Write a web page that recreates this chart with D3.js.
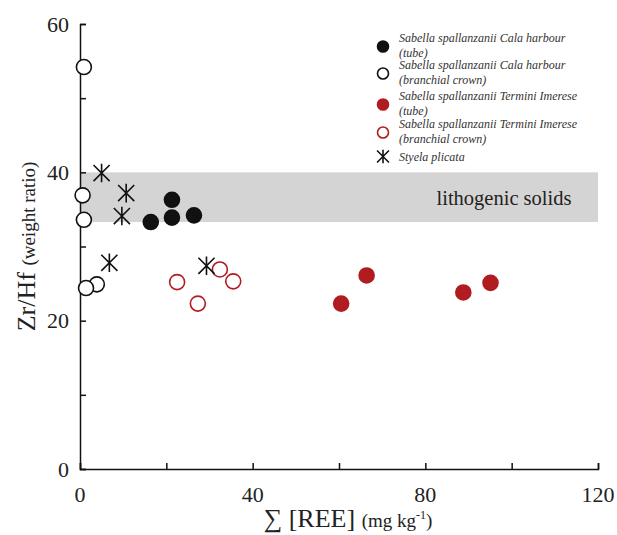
<!DOCTYPE html>
<html>
<head>
<meta charset="utf-8">
<script src="https://cdn.jsdelivr.net/npm/d3@7"></script>
<style>
  body { margin: 0; background: #fff; }
</style>
</head>
<body>
<svg id="chart" width="617" height="535" font-family="'Liberation Serif', 'Times New Roman', serif"></svg>
<script>
// series values: [sum REE (mg/kg), Zr/Hf]
const calaTube = [[16.4, 33.3], [21.3, 33.9], [21.3, 36.3], [26.4, 34.2]];
const calaCrown = [[0.9, 54.2], [0.6, 36.9], [0.9, 33.6], [3.9, 24.9], [1.4, 24.4]];
const terminiTube = [[60.5, 22.3], [66.4, 26.1], [88.8, 23.8], [95.1, 25.1]];
const terminiCrown = [[22.5, 25.2], [32.4, 26.9], [35.5, 25.3], [27.3, 22.3]];
const styela = [[5.0, 39.9], [10.7, 37.2], [9.7, 34.1], [6.8, 27.8], [29.3, 27.4]];
const lithogenicBand = [33.3, 40];

const legendLabels = [
  ["Sabella spallanzanii Cala harbour", "(tube)"],
  ["Sabella spallanzanii Cala harbour", "(branchial crown)"],
  ["Sabella spallanzanii Termini Imerese", "(tube)"],
  ["Sabella spallanzanii Termini Imerese", "(branchial crown)"],
  ["Styela plicata"]
];

const xTicks = [0, 20, 40, 60, 80, 100, 120];
const xLabels = [0, 40, 80, 120];
const yTicks = [0, 10, 20, 30, 40, 50, 60];
const yLabels = [0, 20, 40, 60];

const red = "#b01c20";
const ink = "#222";
const svg = d3.select("#chart");

const x = d3.scaleLinear().domain([0, 120]).range([80, 598]);
const y = d3.scaleLinear().domain([0, 60]).range([469, 24]);

// grey band for lithogenic solids
svg.append("rect")
  .attr("x", x(0))
  .attr("y", y(lithogenicBand[1]))
  .attr("width", x(120) - x(0))
  .attr("height", y(lithogenicBand[0]) - y(lithogenicBand[1]))
  .attr("fill", "#d4d4d4");

svg.append("text")
  .attr("x", 504)
  .attr("y", y(36.6))
  .attr("dy", "0.35em")
  .attr("text-anchor", "middle")
  .attr("font-size", 20.5)
  .attr("fill", ink)
  .text("lithogenic solids");

// axes
const xAxis = svg.append("g")
  .attr("transform", `translate(0,${y(0)})`)
  .call(d3.axisTop(x).tickValues(xTicks).tickSize(6).tickFormat(""));
const yAxis = svg.append("g")
  .attr("transform", `translate(${x(0)},0)`)
  .call(d3.axisRight(y).tickValues(yTicks).tickSize(6).tickFormat(""));
[xAxis, yAxis].forEach(g => {
  g.select(".domain").attr("stroke", "#111").attr("stroke-width", 1.5);
  g.selectAll(".tick line").attr("stroke", "#111").attr("stroke-width", 1.5);
});

svg.selectAll(".xlab").data(xLabels).enter().append("text")
  .attr("x", d => x(d))
  .attr("y", y(0) + 25)
  .attr("dy", "0.35em")
  .attr("text-anchor", "middle")
  .attr("font-size", 22)
  .attr("fill", ink)
  .text(d => d);

svg.selectAll(".ylab").data(yLabels).enter().append("text")
  .attr("x", x(0) - 11)
  .attr("y", d => y(d))
  .attr("dy", "0.35em")
  .attr("text-anchor", "end")
  .attr("font-size", 22)
  .attr("fill", ink)
  .text(d => d);

// axis titles
const xt = svg.append("text")
  .attr("x", 348)
  .attr("y", 527)
  .attr("text-anchor", "middle")
  .attr("fill", ink);
xt.append("tspan").attr("font-size", 26).text("\u2211 [REE] ");
xt.append("tspan").attr("font-size", 19).text("(mg kg");
xt.append("tspan").attr("font-size", 12).attr("dy", -8).text("-1");
xt.append("tspan").attr("font-size", 19).attr("dy", 8).text(")");

const yt = svg.append("text")
  .attr("transform", `translate(35,${y(30)}) rotate(-90)`)
  .attr("text-anchor", "middle")
  .attr("fill", ink);
yt.append("tspan").attr("font-size", 26).text("Zr/Hf ");
yt.append("tspan").attr("font-size", 19).text("(weight ratio)");

// markers
function drawCircles(data, fill, stroke, r) {
  svg.append("g").selectAll("circle").data(data).enter().append("circle")
    .attr("cx", d => x(d[0]))
    .attr("cy", d => y(d[1]))
    .attr("r", r)
    .attr("fill", fill)
    .attr("stroke", stroke)
    .attr("stroke-width", 1.6);
}
drawCircles(terminiCrown, "none", red, 7.5);
drawCircles(terminiTube, red, red, 7.5);
drawCircles(calaCrown, "#fff", "#111", 7.5);
drawCircles(calaTube, "#111", "#111", 7.5);

const starType = {
  draw(ctx, size) {
    const r = Math.sqrt(size) / 1.3;
    ctx.moveTo(-r, -r); ctx.lineTo(r, r);
    ctx.moveTo(-r, r); ctx.lineTo(r, -r);
    ctx.moveTo(0, -r * 1.15); ctx.lineTo(0, r * 1.15);
  }
};
svg.append("g").selectAll("path").data(styela).enter().append("path")
  .attr("transform", d => `translate(${x(d[0])},${y(d[1])})`)
  .attr("d", d3.symbol().type(starType).size(110))
  .attr("stroke", "#111")
  .attr("stroke-width", 1.6)
  .attr("fill", "none");

// legend
const legendMarks = [
  {fill: "#111", stroke: "#111"},
  {fill: "#fff", stroke: "#111"},
  {fill: red, stroke: red},
  {fill: "#fff", stroke: red},
  {star: true}
];
const legendY = [46.5, 73.5, 104.5, 132.5, 156.5];
const lg = svg.append("g");
legendLabels.forEach((lines, i) => {
  const m = legendMarks[i];
  if (m.star) {
    lg.append("path")
      .attr("transform", `translate(383,${legendY[i]})`)
      .attr("d", d3.symbol().type(starType).size(60))
      .attr("stroke", "#111").attr("stroke-width", 1.6).attr("fill", "none");
  } else {
    lg.append("circle")
      .attr("cx", 383).attr("cy", legendY[i]).attr("r", 5.5)
      .attr("fill", m.fill).attr("stroke", m.stroke).attr("stroke-width", 1.6);
  }
  const top = lines.length === 2 ? legendY[i] - 8.5 : legendY[i];
  lines.forEach((t, j) => {
    lg.append("text")
      .attr("x", 399)
      .attr("y", top + j * 14.5)
      .attr("dy", "0.35em")
      .attr("font-size", 12)
      .attr("font-style", "italic")
      .attr("fill", "#333")
      .text(t);
  });
});
</script>
</body>
</html>
